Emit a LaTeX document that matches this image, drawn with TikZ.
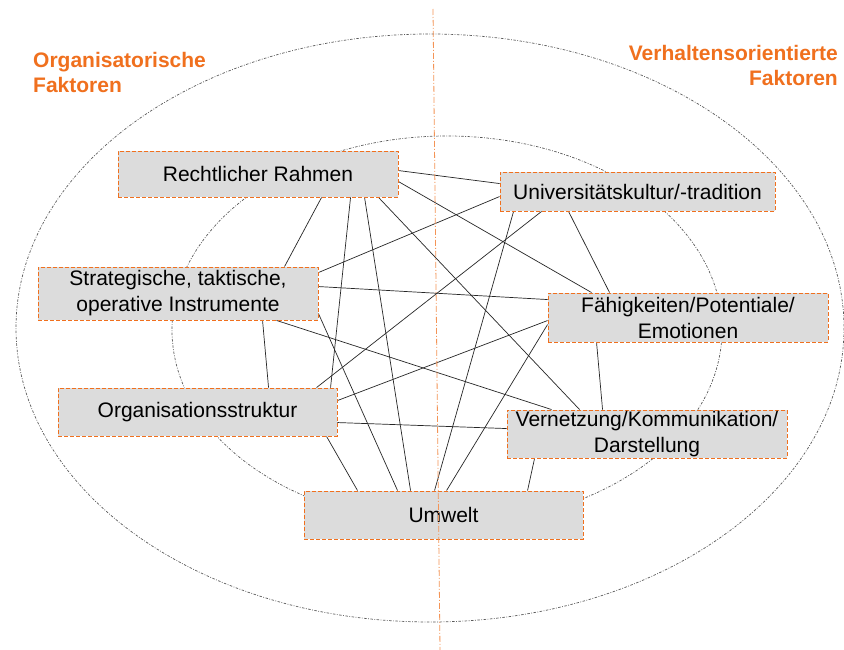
\documentclass[tikz,border=0pt]{standalone}
\usepackage{fontspec}
\setmainfont{Liberation Sans}
\pgfdeclarelayer{background}
\pgfsetlayers{background,main}
\definecolor{orng}{RGB}{240,112,30}
\definecolor{boxfill}{RGB}{220,220,220}
\definecolor{ellgray}{RGB}{90,90,90}
\begin{document}
\begin{tikzpicture}[x=1pt,y=-1pt,
  factor/.style={rectangle,draw=orng,fill=boxfill,line width=0.9pt,
    dash pattern=on 4pt off 2pt,minimum width=280pt,inner sep=0pt,
    align=center,font=\fontsize{21}{26}\selectfont},
  ring/.style={draw=ellgray,line width=0.7pt,dash pattern=on 2.5pt off 1.5pt on 0.8pt off 1.5pt},
  link/.style={draw=black!85,line width=0.7pt},
  sidelabel/.style={text=orng,font=\fontsize{21}{25}\selectfont\bfseries,inner sep=0pt},
  axis/.style={draw=orng!75,line width=0.8pt,dash pattern=on 6pt off 2pt on 1pt off 2pt}]
\useasboundingbox (0,0) rectangle (844,650);
% side labels
\node[sidelabel,anchor=north west,align=left] (orgl) at (33,52) {Organisatorische\\Faktoren};
\node[sidelabel,anchor=north east,align=right] (verl) at (838,45) {Verhaltensorientierte\\Faktoren};
% factor boxes
\node[factor,minimum height=46pt] (rr) at (258,174) {Rechtlicher Rahmen};
\node[factor,minimum width=275pt,minimum height=39pt] (univ) at (637.5,191.5) {Universitätskultur/-tradition};
\node[factor,minimum height=53pt] (strat) at (178,293.5) {Strategische, taktische,\\operative Instrumente};
\node[factor,minimum height=49pt] (faeh) at (688,317.5) {Fähigkeiten/Potentiale/\\Emotionen};
\node[factor,minimum width=279pt,minimum height=48pt] (org) at (197.5,412) {Organisationsstruktur};
\node[factor,minimum height=48pt] (vern) at (647,434) {Vernetzung/Kommunikation/\\Darstellung};
\node[factor,minimum width=279pt,minimum height=48pt] (umw) at (443.5,515) {Umwelt};
\begin{pgfonlayer}{background}
\fill[white] (0,0) rectangle (844,650);
% ellipses
\draw[ring] (430,328) ellipse [x radius=414, y radius=294];
\draw[ring] (447,330) ellipse [x radius=275, y radius=194];
% connectors
\draw[link] ([yshift=-20pt]rr.north east) -- ([yshift=-12pt]univ.north west);
\draw[link] ([xshift=204pt]rr.south west) -- ([xshift=247pt]strat.north west);
\draw[link] ([xshift=233pt]rr.south west) -- ([xshift=273pt]org.north west);
\draw[link] ([xshift=247pt]rr.south west) -- ([xshift=107pt]umw.north west);
\draw[link] ([xshift=261pt]rr.south west) -- ([xshift=73pt]vern.north west);
\draw[link] ([yshift=-31pt]rr.north east) -- ([xshift=44pt]faeh.north west);
\draw[link] ([yshift=-25pt]univ.north west) -- ([yshift=-6pt]strat.north east);
\draw[link] ([xshift=42pt]univ.south west) -- ([xshift=259pt]org.north west);
\draw[link] ([xshift=14pt]univ.south west) -- ([xshift=131pt]umw.north west);
\draw[link] ([xshift=69pt]univ.south west) -- ([xshift=62pt]faeh.north west);
\draw[link] ([yshift=-20pt]strat.north east) -- ([yshift=-7pt]faeh.north west);
\draw[link] ([xshift=239pt]strat.south west) -- ([xshift=45pt]vern.north west);
\draw[link] ([xshift=225pt]strat.south west) -- ([xshift=211pt]org.north west);
\draw[link] ([yshift=-47pt]strat.north east) -- ([xshift=94pt]umw.north west);
\draw[link] ([yshift=-28pt]faeh.north west) -- ([yshift=-13pt]org.north east);
\draw[link] ([yshift=-32pt]faeh.north west) -- ([xshift=143pt]umw.north west);
\draw[link] ([xshift=49pt]faeh.south west) -- ([xshift=96pt]vern.north west);
\draw[link] ([yshift=-35pt]org.north east) -- ([yshift=-19pt]vern.north west);
\draw[link] ([xshift=269pt]org.south west) -- ([xshift=54pt]umw.north west);
\draw[link] ([xshift=28pt]vern.south west) -- ([xshift=224pt]umw.north west);
\end{pgfonlayer}
% axis
\coordinate (axtop) at (433,9);
\coordinate (axbot) at (440,650);
\draw[axis] (axtop) -- (axbot);
\end{tikzpicture}
\end{document}
